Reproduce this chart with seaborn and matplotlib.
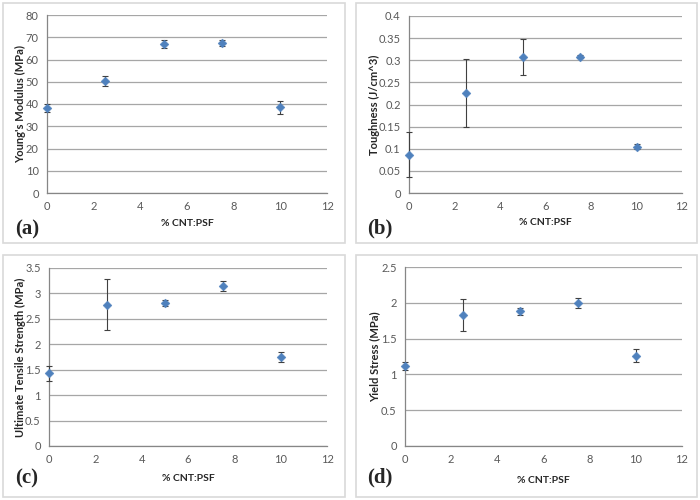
import numpy as np
import pandas as pd
import matplotlib
matplotlib.use('Agg')
import matplotlib.pyplot as plt
import seaborn as sns
from matplotlib.patches import Rectangle

# % CNT:PSF loading
cnt = [0, 2.5, 5, 7.5, 10]

youngs = [38.0, 50.2, 67.0, 67.4, 38.6]
youngs_err = [1.8, 2.3, 1.8, 1.2, 2.9]

tough = [0.087, 0.226, 0.307, 0.308, 0.105]
tough_err = [0.051, 0.076, 0.041, 0.004, 0.005]

uts = [1.43, 2.78, 2.82, 3.15, 1.75]
uts_err = [0.145, 0.50, 0.06, 0.10, 0.09]

yld = [1.12, 1.83, 1.88, 2.00, 1.26]
yld_err = [0.06, 0.22, 0.05, 0.07, 0.09]

sns.set_theme(style='white')
# narrow face if installed, otherwise Lato
plt.rcParams['font.family'] = ['Liberation Sans Narrow', 'Lato', 'DejaVu Sans']

BLUE = '#4f81bd'
GRID = '#a6a6a6'
AXIS = '#868686'
TXT = '#595959'

fig = plt.figure(figsize=(7, 5), dpi=100)

# frames around each panel (pixel coords -> figure fraction)
def px(x0, y0, x1, y1):
    return [x0 / 700, 1 - y1 / 500, (x1 - x0) / 700, (y1 - y0) / 500]

for fr in [px(3, 3, 345, 243), px(356, 3, 697, 243),
           px(3, 255, 345, 497), px(356, 255, 697, 497)]:
    fig.patches.append(Rectangle((fr[0], fr[1]), fr[2], fr[3], transform=fig.transFigure,
                                 fill=False, edgecolor='#d9d9d9', linewidth=1.2))

panels = [
    (px(47, 15, 327, 193), youngs, youngs_err, "Young's Modulus (MPa)", (0, 80), np.arange(0, 81, 10),
     '(a)', 15, 229, -0.096, -0.169),
    (px(409, 16, 682, 193), tough, tough_err, 'Toughness (J/cm^3)', (0, 0.4), np.arange(0, 0.41, 0.05),
     '(b)', 367, 228, -0.125, -0.169),
    (px(49, 268, 327, 446), uts, uts_err, 'Ultimate Tensile Strength (MPa)', (0, 3.5), np.arange(0, 3.51, 0.5),
     '(c)', 15, 478, -0.104, -0.18),
    (px(405, 267, 682, 446), yld, yld_err, 'Yield Stress (MPa)', (0, 2.5), np.arange(0, 2.51, 0.5),
     '(d)', 367, 477, -0.108, -0.19),
]

for rect, vals, errs, ylab, ylim, yticks, tag, tx, ty, ylx, xly in panels:
    ax = fig.add_axes(rect)
    df = pd.DataFrame({'x': cnt, 'y': vals, 'e': errs})
    eb = ax.errorbar(df['x'], df['y'], yerr=df['e'], fmt='none', ecolor='#404040',
                     elinewidth=0.8, capsize=2.5, capthick=0.8, zorder=3)
    for art in eb.lines[1] + eb.lines[2]:
        art.set_clip_on(False)
    sns.scatterplot(data=df, x='x', y='y', marker='D', s=20, color=BLUE,
                    edgecolor=BLUE, ax=ax, zorder=4, clip_on=False)
    ax.set_xlim(0, 12)
    ax.set_ylim(*ylim)
    ax.set_xticks(range(0, 13, 2))
    ax.set_yticks(yticks)
    ax.set_yticklabels([f'{t:g}' for t in yticks])
    ax.yaxis.grid(True, color=GRID, linewidth=0.9)
    ax.xaxis.grid(False)
    ax.set_axisbelow(True)
    for s in ['top', 'right']:
        ax.spines[s].set_visible(False)
    for s in ['left', 'bottom']:
        ax.spines[s].set_color(AXIS)
        ax.spines[s].set_linewidth(0.9)
    ax.tick_params(axis='both', direction='out', length=4, width=0.8, color=AXIS,
                   labelsize=8, labelcolor=TXT, pad=2)
    ax.set_ylabel(ylab, fontsize=8, fontweight='bold', color='#262626')
    ax.set_xlabel('% CNT:PSF', fontsize=7.5, fontweight='bold', color='#262626')
    ax.yaxis.set_label_coords(ylx, 0.5)
    ax.xaxis.set_label_coords(0.5, xly)
    ax.xaxis.label.set_va('center')
    ax.yaxis.label.set_va('center')
    fig.text(tx / 700, 1 - ty / 500, tag, fontsize=15, fontweight='bold',
             family=['Liberation Serif', 'DejaVu Serif'], va='center', ha='left')

fig.savefig('out.png', dpi=100)
